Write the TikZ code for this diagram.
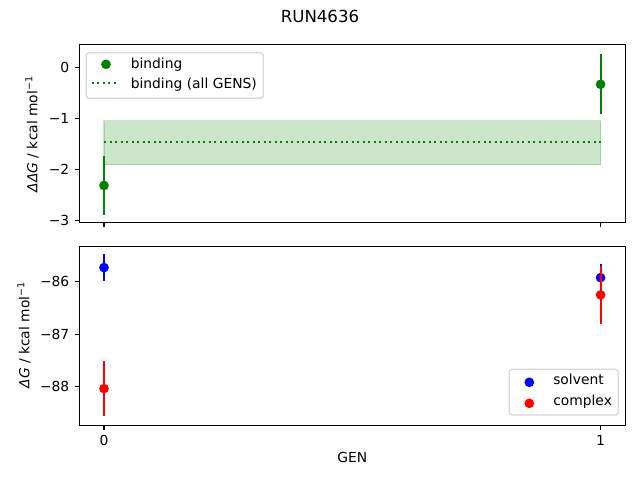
\documentclass[tikz,border=0pt]{standalone}
\usepackage{fontspec}
\setmainfont{DejaVu Sans}
\usetikzlibrary{positioning}
\tikzset{dot/.style = {fill, circle, inner sep = 0, minimum size = 7pt}}
\tikzset{errbar/.style = {line width = 1.5pt}}
\tikzset{axframe/.style = {line width = 0.8pt}}
\tikzset{tickmark/.style = {line width = 0.8pt}}
\tikzset{ticklabel/.style = {inner sep = 0}}
\tikzset{legframe/.style = {draw = lgray, fill = white, fill opacity = 0.8, draw opacity = 0.8, rounded corners = 2pt, line width = 1pt}}
\definecolor{mgreen}{rgb}{0, 0.5, 0}
\definecolor{mblue}{rgb}{0, 0, 1}
\definecolor{mred}{rgb}{1, 0, 0}
\definecolor{lgray}{gray}{0.8}

\begin{document}
\begin{tikzpicture}[x=0.01in, y=0.01in, font=\fontsize{10}{12}\selectfont]
    \useasboundingbox (0, 0) rectangle (640, 480);

    \node [inner sep = 0, font=\fontsize{12}{14}\selectfont] (title) at (320, 463.3) {RUN4636};

    % top panel: binding
    \begin{scope}[shift={(104, 412.7)}, x=4.963in, y=0.511in]
      \draw [mgreen, fill=mgreen, fill opacity=0.2, draw opacity=0.2, line width=1pt] (0, -1.906) rectangle (1, -1.045);
      \draw [mgreen, line width=1.5pt, dash pattern=on 1.5pt off 2.475pt] (0, -1.456) -- (1, -1.456);
      \foreach \x/\y/\e in {0/-2.31/0.57, 1/-0.333/0.59}{
        \draw [errbar, mgreen] (\x, \y-\e) -- (\x, \y+\e);
        \node [dot, mgreen] (bind\x) at (\x, \y) {};
      }
      \foreach \y/\lbl [count=\i] in {0/0, -1/−1, -2/−2, -3/−3}{
        \draw [tickmark] (-0.0494, \y) -- ++(-3.5pt, 0) node [ticklabel, anchor=east, xshift=-3.5pt] (tyA\i) {\lbl};
      }
      \foreach \x in {0, 1}{
        \draw [tickmark] (\x, -3.037) -- ++(0, -3.5pt);
      }
      \draw [axframe] (-0.0494, -3.037) rectangle (1.0508, 0.446);
    \end{scope}

    % bottom panel: solvent and complex
    \begin{scope}[shift={(104, 4689.9)}, x=4.963in, y=0.522in]
      \foreach \x/\y in {0/-85.726, 1/-85.92}{
        \node [dot, mblue] (solv\x) at (\x, \y) {};
      }
      \foreach \x/\y in {0/-88.044, 1/-86.25}{
        \node [dot, mred] (cplx\x) at (\x, \y) {};
      }
      \foreach \x/\y/\e in {0/-85.726/0.25, 1/-85.92/0.27}{
        \draw [errbar, mblue] (\x, \y-\e) -- (\x, \y+\e);
      }
      \foreach \x/\y/\e in {0/-88.044/0.52, 1/-86.25/0.55}{
        \draw [errbar, mred] (\x, \y-\e) -- (\x, \y+\e);
      }
      \foreach \y/\lbl [count=\i] in {-86/−86, -87/−87, -88/−88}{
        \draw [tickmark] (-0.0494, \y) -- ++(-3.5pt, 0) node [ticklabel, anchor=east, xshift=-3.5pt] (tyB\i) {\lbl};
      }
      \foreach \x in {0, 1}{
        \draw [tickmark] (\x, -88.743) -- ++(0, -3.5pt) node [ticklabel, anchor=north, yshift=-3.5pt] (tx\x) {\x};
      }
      \draw [axframe] (-0.0494, -88.743) rectangle (1.0508, -85.329);
    \end{scope}

    % axis labels
    \node [inner sep = 0] (xlab) at (352.3, 23) {GEN};
    \node [inner sep = 0, rotate=90] (ylabA) at (32, 346) {\textit{ΔΔG} / kcal mol\textsuperscript{−1}};
    \node [inner sep = 0, rotate=90] (ylabB) at (24, 145) {\textit{ΔG} / kcal mol\textsuperscript{−1}};

    % legends
    \draw [legframe] (86.3, 381.7) rectangle (263.3, 427.3);
    \node [dot, mgreen] (legA1) at (106, 415.7) {};
    \node [inner sep = 0, anchor=base west] (legA1t) at (130.5, 411) {binding};
    \coordinate (legA2a) at (91.7, 396.7);
    \coordinate (legA2b) at (119, 396.7);
    \draw [mgreen, line width=1.5pt, dash pattern=on 1.5pt off 2.475pt] (legA2a) -- (legA2b);
    \node [inner sep = 0, anchor=base west] (legA2t) at (130.5, 391.3) {binding (all GENS)};

    \draw [legframe] (509.3, 65) rectangle (618.3, 110.7);
    \node [dot, mblue] (legB1) at (529.3, 97.7) {};
    \node [inner sep = 0, anchor=base west] (legB1t) at (553, 95) {solvent};
    \node [dot, mred] (legB2) at (529.3, 76.7) {};
    \node [inner sep = 0, anchor=base west] (legB2t) at (553, 74) {complex};
  \end{tikzpicture}
\end{document}
